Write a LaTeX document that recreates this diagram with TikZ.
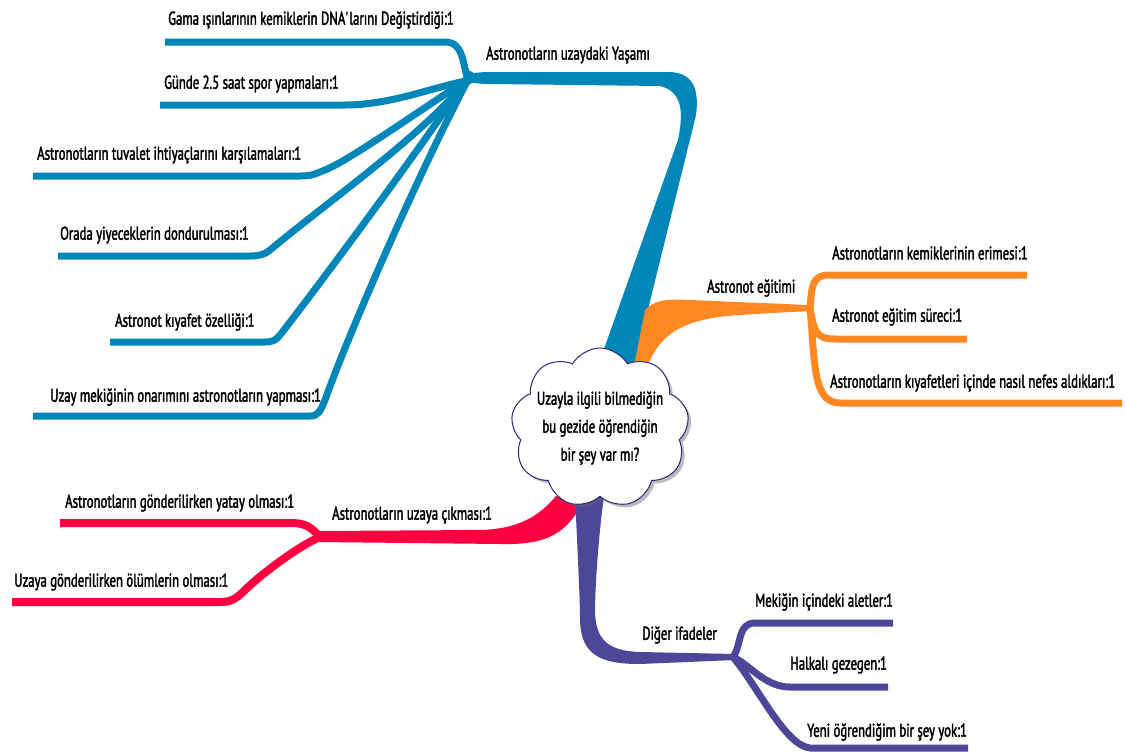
\documentclass[tikz,border=0pt]{standalone}
\usepackage{fontspec}
\setmainfont{PT Sans}[FakeStretch=0.69, FakeBold=2]
\usetikzlibrary{shapes.symbols,shadows}
\definecolor{skyb}{RGB}{0,134,184}
\definecolor{orng}{RGB}{255,136,34}
\definecolor{rose}{RGB}{255,0,64}
\definecolor{indg}{RGB}{77,71,154}
\definecolor{navy}{RGB}{40,40,130}
\tikzset{
  lbl/.style={font=\fontsize{18.5}{22}\selectfont, inner sep=0pt, anchor=west, text=black},
  twig/.style={line width=7pt, line cap=butt, line join=round},
}
\begin{document}
\begin{tikzpicture}[x=1pt,y=-1pt]
\fill[white] (0,0) rectangle (1126,755);
\useasboundingbox (0,0) rectangle (1126,755);

% hubs where the leaves split off
\coordinate (hubB) at (470,80);
\coordinate (hubO) at (810,308);
\coordinate (hubR) at (320,537);
\coordinate (hubP) at (733,657);

% ---------- blue: life in space ----------
\fill[skyb] (598,366) -- (678,140) .. controls (683,115) and (684,92) .. (660,86)
  -- (490,84) .. controls (480,84) and (475,83) .. (466,82) -- (466,74)
  .. controls (475,73) and (480,72) .. (490,72) -- (668,72)
  .. controls (690,72) and (700,85) .. (696,115) -- (634,366) -- cycle;
\coordinate (b1) at (165,42);
\coordinate (b2) at (160,105);
\coordinate (b3) at (33,176);
\coordinate (b4) at (58,256);
\coordinate (b5) at (110,342);
\coordinate (b6) at (33,416);
\draw[twig,skyb] ([yshift=-4]hubB) .. controls (462,70) and (466,42) .. (445,42) -- (b1);
\draw[twig,skyb] (hubB) .. controls (430,88) and (390,105) .. (345,105) -- (b2);
\draw[twig,skyb] ([yshift=2]hubB) .. controls (420,110) and (350,160) .. (325,170)
  .. controls (315,174) and (312,176) .. (300,176) -- (b3);
\draw[twig,skyb] ([yshift=4]hubB) .. controls (430,130) and (330,200) .. (270,250)
  .. controls (264,255) and (258,256) .. (250,256) -- (b4);
\draw[twig,skyb] ([yshift=6]hubB) .. controls (420,150) and (300,310) .. (280,335)
  .. controls (275,341) and (272,342) .. (265,342) -- (b5);
\draw[twig,skyb] ([yshift=8,xshift=2]hubB) .. controls (420,170) and (350,330) .. (325,400)
  .. controls (320,412) and (318,416) .. (310,416) -- (b6);

% ---------- orange: training ----------
\fill[orng] (634,366) -- (645,310) .. controls (655,300) and (665,299) .. (690,300)
  -- (760,303) .. controls (790,304) and (800,305) .. (812,305) -- (812,311)
  .. controls (790,312) and (770,313) .. (740,315)
  .. controls (690,318) and (660,330) .. (647,368) -- cycle;
\coordinate (o1) at (1027,275);
\coordinate (o2) at (967,339);
\coordinate (o3) at (1122,403);
\draw[twig,orng] (hubO) .. controls (812,285) and (812,275) .. (830,275) -- (o1);
\draw[twig,orng] (hubO) .. controls (814,330) and (815,339) .. (835,339) -- (o2);
\draw[twig,orng] (hubO) .. controls (815,360) and (812,403) .. (840,403) -- (o3);

% ---------- red: launch ----------
\fill[rose] (318,531) -- (480,530) .. controls (520,529) and (540,515) .. (556,496)
  -- (582,504) .. controls (565,535) and (545,545) .. (500,544) -- (318,542) -- cycle;
\coordinate (r1) at (60,523);
\coordinate (r2) at (12,602);
\draw[twig,rose,line width=8pt] (hubR) .. controls (310,526) and (305,523) .. (290,523) -- (r1);
\draw[twig,rose,line width=8pt] (hubR) .. controls (300,545) and (260,575) .. (245,590)
  .. controls (235,600) and (230,602) .. (220,602) -- (r2);

% ---------- purple: other answers ----------
\fill[indg] (575,496) .. controls (578,560) and (580,600) .. (580,620)
  .. controls (581,655) and (600,664) .. (640,664) -- (735,660) -- (735,654)
  -- (640,652) .. controls (608,651) and (596,640) .. (595,612)
  .. controls (595,590) and (598,540) .. (604,496) -- cycle;
\coordinate (p1) at (893,623);
\coordinate (p2) at (888,687);
\coordinate (p3) at (968,748);
\draw[twig,indg] (hubP) .. controls (742,645) and (737,623) .. (755,623) -- (p1);
\draw[twig,indg] (hubP) .. controls (750,665) and (765,687) .. (790,687) -- (p2);
\draw[twig,indg] (hubP) .. controls (760,690) and (785,745) .. (810,748) -- (p3);

% ---------- central question ----------
\node[cloud, cloud puffs=9, cloud puff arc=120, draw=navy, line width=1pt,
  fill=white, minimum width=178pt, minimum height=160pt, inner sep=0pt,
  drop shadow={shadow xshift=3pt, shadow yshift=-3pt, opacity=0.45, fill=black!60}]
  (core) at (600,428) {};
\node[align=center, inner sep=0pt, font=\fontsize{18.5}{28}\selectfont] (coretext)
  at (core.center) {Uzayla ilgili bilmediğin\\bu gezide öğrendiğin\\bir şey var mı?};

% ---------- labels ----------
\node[lbl] (tB)  at (486,55)  {Astronotların uzaydaki Yaşamı};
\node[lbl] (tB1) at (168,20)  {Gama ışınlarının kemiklerin DNA\textquotesingle larını Değiştirdiği:1};
\node[lbl] (tB2) at (164,84)  {Günde 2.5 saat spor yapmaları:1};
\node[lbl] (tB3) at (37,155)  {Astronotların tuvalet ihtiyaçlarını karşılamaları:1};
\node[lbl] (tB4) at (60,235)  {Orada yiyeceklerin dondurulması:1};
\node[lbl] (tB5) at (115,322) {Astronot kıyafet özelliği:1};
\node[lbl] (tB6) at (50,397)  {Uzay mekiğinin onarımını astronotların yapması:1};

\node[lbl] (tO)  at (707,288) {Astronot eğitimi};
\node[lbl] (tO1) at (832,253) {Astronotların kemiklerinin erimesi:1};
\node[lbl] (tO2) at (832,317) {Astronot eğitim süreci:1};
\node[lbl] (tO3) at (830,383) {Astronotların kıyafetleri içinde nasıl nefes aldıkları:1};

\node[lbl] (tR)  at (332,515) {Astronotların uzaya çıkması:1};
\node[lbl] (tR1) at (65,503)  {Astronotların gönderilirken yatay olması:1};
\node[lbl] (tR2) at (14,582)  {Uzaya gönderilirken ölümlerin olması:1};

\node[lbl] (tP)  at (642,635) {Diğer ifadeler};
\node[lbl] (tP1) at (755,602) {Mekiğin içindeki aletler:1};
\node[lbl] (tP2) at (790,665) {Halkalı gezegen:1};
\node[lbl] (tP3) at (807,732) {Yeni öğrendiğim bir şey yok:1};
\end{tikzpicture}
\end{document}
